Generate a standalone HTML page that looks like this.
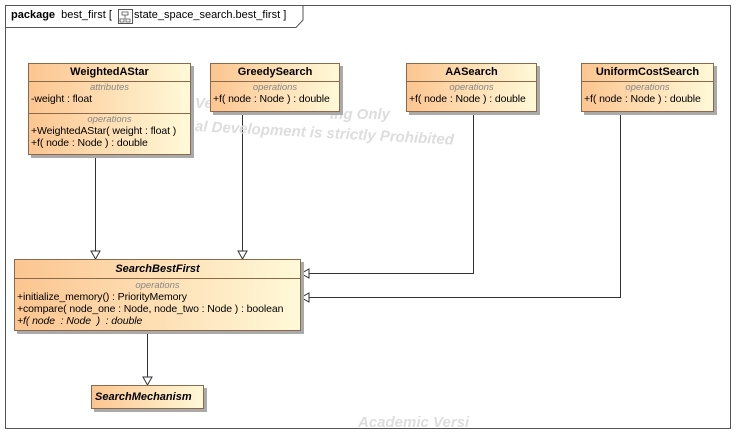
<!DOCTYPE html>
<html><head><style>
body{margin:0;width:736px;height:434px;background:#fff;position:relative;overflow:hidden;font-family:"Liberation Sans",sans-serif;font-size:11px;color:#000}
.frame{position:absolute;left:5px;top:5px;width:726px;height:424px;border:1px solid #555;box-sizing:border-box}
.c{position:absolute;border:1px solid #8a6a4a;box-sizing:border-box;background:linear-gradient(to right,#fcc590,#fff9d8);box-shadow:3px 3px 0 #aaa}
.h{font-weight:bold;text-align:center;height:17px;line-height:17px;border-bottom:1px solid #8a6a4a}
.st{color:#888;font-style:italic;text-align:center;font-size:9.5px;line-height:11px}
.r{padding-left:2px;line-height:12px;white-space:nowrap;font-size:10.5px;letter-spacing:-0.1px}
.sec{border-bottom:1px solid #8a6a4a;padding-bottom:2px}
.wm{position:absolute;color:#ddd;font-style:italic;font-weight:bold;font-size:15px;white-space:nowrap}
</style></head><body>
<div class="frame"></div>
<svg style="position:absolute;left:0;top:0" width="736" height="434">
<path d="M5.5 27.5 H296 L303 20 V5.5" fill="none" stroke="#555"/>
<g stroke="#333" fill="none">
<path d="M95.5 155 V251"/><path d="M242.5 112 V251"/>
<path d="M473.5 112 V273.5 H309"/><path d="M620.5 112 V297.5 H309"/>
<path d="M147.5 331 V377"/>
</g>
<g stroke="#333" fill="#fff">
<path d="M91 251 L100 251 L95.5 259 Z"/><path d="M238 251 L247 251 L242.5 259 Z"/>
<path d="M309 269 L309 278 L301 273.5 Z"/><path d="M309 293 L309 302 L301 297.5 Z"/>
<path d="M143 377 L152 377 L147.5 385 Z"/>
</g>
<rect x="118.5" y="9.5" width="14" height="14" fill="#fff" stroke="#555"/>
<path d="M122 12h6v3h-6zM120 19h4v3h-4zM126 19h4v3h-4zM125 15v4" fill="none" stroke="#555" stroke-width="0.8"/>
</svg>
<div style="position:absolute;left:11px;top:9px;font-size:11px"><b>package</b>&nbsp; best_first [ <span style="display:inline-block;width:16px"></span> state_space_search.best_first ]</div>
<div class="wm" style="left:195px;top:95px">Ve</div>
<div class="wm" style="left:195px;top:118px;transform:rotate(3deg);transform-origin:left">al Development is strictly Prohibited</div>
<div class="wm" style="left:330px;top:106px">ing Only</div>
<div class="wm" style="left:358px;top:414px">Academic Versi</div>

<div class="c" style="left:28px;top:63px;width:163px;height:92px">
<div class="h">WeightedAStar</div>
<div class="sec"><div class="st">attributes</div><div class="r">-weight : float</div><div style="height:6px"></div></div>
<div class="st">operations</div><div class="r">+WeightedAStar( weight : float )</div><div class="r">+f( node : Node ) : double</div>
</div>
<div class="c" style="left:210px;top:63px;width:130px;height:49px">
<div class="h">GreedySearch</div><div class="st">operations</div><div class="r">+f( node : Node ) : double</div></div>
<div class="c" style="left:406px;top:63px;width:131px;height:49px">
<div class="h">AASearch</div><div class="st">operations</div><div class="r">+f( node : Node ) : double</div></div>
<div class="c" style="left:581px;top:63px;width:133px;height:49px">
<div class="h">UniformCostSearch</div><div class="st">operations</div><div class="r">+f( node : Node ) : double</div></div>
<div class="c" style="left:14px;top:259px;width:287px;height:72px">
<div class="h" style="font-style:italic;height:18px;line-height:18px">SearchBestFirst</div>
<div class="st" style="margin-top:1px">operations</div>
<div class="r">+initialize_memory() : PriorityMemory</div>
<div class="r">+compare( node_one : Node, node_two : Node ) : boolean</div>
<div class="r" style="font-style:italic">+f( node&nbsp; : Node&nbsp; )&nbsp; : double</div></div>
<div class="c" style="left:91px;top:385px;width:113px;height:24px">
<div style="font-weight:bold;font-style:italic;line-height:22px;padding-left:3px">SearchMechanism</div></div>
</body></html>
